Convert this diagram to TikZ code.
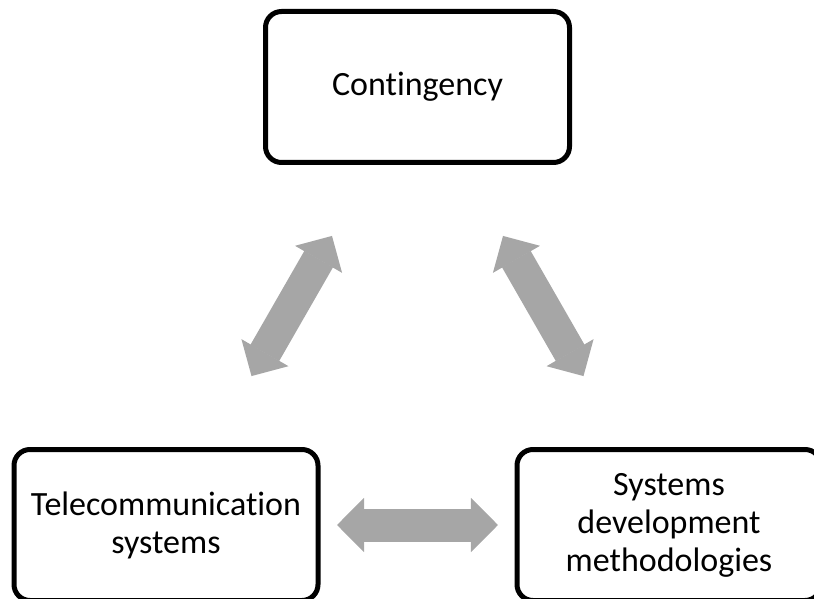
\documentclass[tikz,border=0pt]{standalone}
\usepackage{fontspec}
\setmainfont{Carlito}[Ligatures=NoCommon]
\usetikzlibrary{arrows.meta,calc}

\begin{document}
\begin{tikzpicture}[x=1pt,y=1pt,
    box/.style={draw,line width=5pt,rounded corners=16pt,minimum width=304pt,minimum height=151pt,
      align=center,font=\fontsize{34pt}{38pt}\selectfont},
    link/.style={line width=33pt,draw=black!35,
      {Triangle[length=27pt,width=54pt,line width=1.5pt]}-{Triangle[length=27pt,width=54pt,line width=1.5pt]}}]
  \useasboundingbox (0,0) rectangle (814,598);
  \node[box] (contingency) at (417.5,511) {Contingency};
  \node[box] (telecom) at (166,73) {Telecommunication\\systems};
  \node[box] (sdm) at (669,73) {Systems\\development\\methodologies};
  \draw[link] ($(contingency)!0.34!(telecom)$) -- ($(contingency)!0.66!(telecom)$);
  \draw[link] ($(contingency)!0.34!(sdm)$) -- ($(contingency)!0.66!(sdm)$);
  \draw[link] ($(telecom)!0.34!(sdm)$) -- ($(telecom)!0.66!(sdm)$);
\end{tikzpicture}
\end{document}
